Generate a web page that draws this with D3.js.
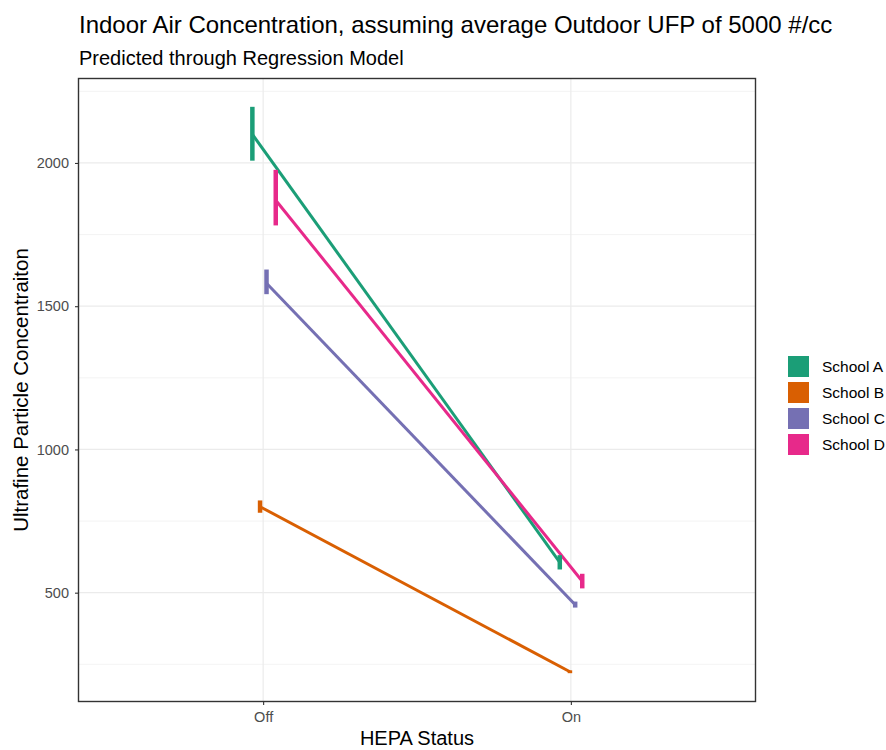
<!DOCTYPE html>
<html lang="en">
<head>
    <meta charset="utf-8" />
    <title>Indoor Air Concentration</title>
    <script src="https://d3js.org/d3.v7.min.js"></script>
    <style>
        body { margin: 0; background: #fff; font-family: "Liberation Sans", Arial, sans-serif; }
    </style>
</head>
<body>
    <svg id="chart" width="886" height="750"></svg>
    <script>
        // data
        const hepaStatus = ["Off", "On"];
        const schools = ["School A", "School B", "School C", "School D"];
        const colors = ["#1B9E77", "#D95F02", "#7570B3", "#E7298A"];
        // predicted mean, lower and upper per school: [Off, On]
        const meanValues = [[2100, 606], [800, 224], [1580, 458], [1870, 540]];
        const lowerValues = [[2008, 581], [779, 219], [1542, 448], [1782, 515]];
        const upperValues = [[2196, 631], [822, 229], [1628, 469], [1976, 566]];
        // horizontal jitter of each mark, in category units
        const jitter = [[-0.035, -0.036], [-0.010, -0.003], [0.011, 0.014], [0.041, 0.037]];
        const yTicks = [500, 1000, 1500, 2000];
        const yMinor = [250, 750, 1250, 1750, 2250];

        const svg = d3.select("#chart");
        const panel = { left: 78.5, top: 78.5, right: 755.5, bottom: 701.5 };

        const allLo = d3.min(lowerValues.flat());
        const allHi = d3.max(upperValues.flat());
        const pad = (allHi - allLo) * 0.05;

        const x = d3.scaleLinear()
            .domain([0.4, hepaStatus.length + 0.6])
            .range([panel.left, panel.right]);
        const y = d3.scaleLinear()
            .domain([allLo - pad, allHi + pad])
            .range([panel.bottom, panel.top]);

        // titles
        svg.append("text")
            .attr("x", 79).attr("y", 33)
            .attr("font-size", 24)
            .attr("fill", "#000")
            .text("Indoor Air Concentration, assuming average Outdoor UFP of 5000 #/cc");
        svg.append("text")
            .attr("x", 79).attr("y", 65)
            .attr("font-size", 20)
            .attr("fill", "#000")
            .text("Predicted through Regression Model");

        // grid
        const grid = svg.append("g");
        grid.selectAll(".minor")
            .data(yMinor)
            .enter()
            .append("line")
            .attr("x1", panel.left).attr("x2", panel.right)
            .attr("y1", d => y(d)).attr("y2", d => y(d))
            .attr("stroke", "#EBEBEB").attr("stroke-width", 0.6);
        grid.selectAll(".major")
            .data(yTicks)
            .enter()
            .append("line")
            .attr("x1", panel.left).attr("x2", panel.right)
            .attr("y1", d => y(d)).attr("y2", d => y(d))
            .attr("stroke", "#EBEBEB").attr("stroke-width", 1.2);
        grid.selectAll(".vmajor")
            .data(hepaStatus)
            .enter()
            .append("line")
            .attr("x1", (d, i) => x(i + 1)).attr("x2", (d, i) => x(i + 1))
            .attr("y1", panel.top).attr("y2", panel.bottom)
            .attr("stroke", "#EBEBEB").attr("stroke-width", 1.2);

        // lines between Off and On
        const lineGen = d3.line()
            .x(d => x(d.xi + 1 + d.jit))
            .y(d => y(d.v));

        const series = schools.map((s, si) => ({
            name: s,
            color: colors[si],
            points: hepaStatus.map((h, hi) => ({
                xi: hi,
                jit: jitter[si][hi],
                v: meanValues[si][hi],
                lo: lowerValues[si][hi],
                hi: upperValues[si][hi]
            }))
        }));

        const marks = svg.append("g");
        marks.selectAll("path")
            .data(series)
            .enter()
            .append("path")
            .attr("d", d => lineGen(d.points))
            .attr("fill", "none")
            .attr("stroke", d => d.color)
            .attr("stroke-width", 3);

        // error bars
        series.forEach(s => {
            marks.selectAll(null)
                .data(s.points)
                .enter()
                .append("line")
                .attr("x1", d => x(d.xi + 1 + d.jit))
                .attr("x2", d => x(d.xi + 1 + d.jit))
                .attr("y1", d => y(d.lo))
                .attr("y2", d => y(d.hi))
                .attr("stroke", s.color)
                .attr("stroke-width", 4.5);
        });

        // panel border
        svg.append("rect")
            .attr("x", panel.left).attr("y", panel.top)
            .attr("width", panel.right - panel.left)
            .attr("height", panel.bottom - panel.top)
            .attr("fill", "none")
            .attr("stroke", "#333333")
            .attr("stroke-width", 1.4);

        // axes
        const yAxis = svg.append("g")
            .attr("transform", "translate(" + panel.left + ",0)")
            .call(d3.axisLeft(y).tickValues(yTicks).tickFormat(d3.format("d")).tickSize(3.5).tickPadding(6));
        const xAxis = svg.append("g")
            .attr("transform", "translate(0," + panel.bottom + ")")
            .call(d3.axisBottom(x).tickValues([1, 2]).tickFormat((d, i) => hepaStatus[i]).tickSize(3.5).tickPadding(7));
        [yAxis, xAxis].forEach(a => {
            a.select(".domain").remove();
            a.selectAll(".tick line").attr("stroke", "#333333").attr("stroke-width", 1.1);
            a.selectAll(".tick text")
                .attr("fill", "#4D4D4D")
                .attr("font-size", 14.5)
                .attr("font-family", "Liberation Sans, Arial, sans-serif");
        });

        svg.append("text")
            .attr("x", (panel.left + panel.right) / 2)
            .attr("y", 745)
            .attr("text-anchor", "middle")
            .attr("font-size", 20)
            .text("HEPA Status");
        svg.append("text")
            .attr("transform", "translate(28," + ((panel.top + panel.bottom) / 2) + ") rotate(-90)")
            .attr("text-anchor", "middle")
            .attr("font-size", 20.5)
            .text("Ultrafine Particle Concentraiton");

        // legend
        const legend = svg.append("g").attr("transform", "translate(788,356)");
        const keySize = 21;
        legend.selectAll("rect")
            .data(schools)
            .enter()
            .append("rect")
            .attr("x", 0)
            .attr("y", (d, i) => i * 26)
            .attr("width", keySize)
            .attr("height", keySize)
            .attr("fill", (d, i) => colors[i]);
        legend.selectAll("text")
            .data(schools)
            .enter()
            .append("text")
            .attr("x", 34)
            .attr("y", (d, i) => i * 26 + 16)
            .attr("font-size", 15.5)
            .attr("fill", "#000")
            .text(d => d);
    </script>
</body>
</html>
